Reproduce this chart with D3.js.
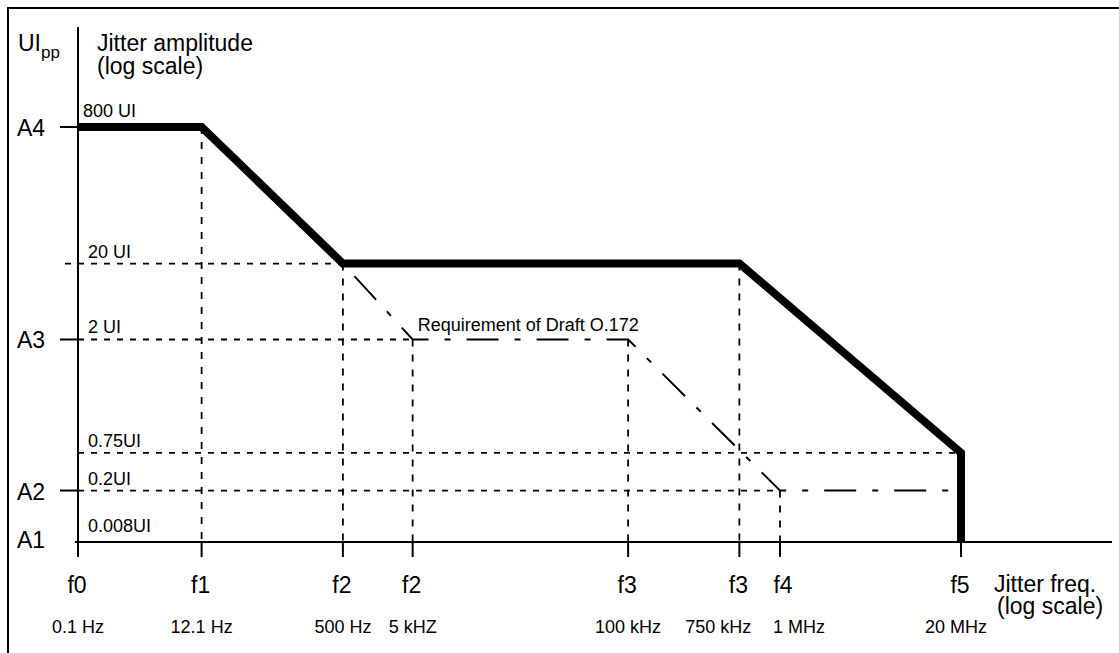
<!DOCTYPE html>
<html>
<head>
<meta charset="utf-8">
<script src="https://cdn.jsdelivr.net/npm/d3@7/dist/d3.min.js"></script>
<style>
  body { margin: 0; background: #fff; }
  svg { display: block; font-family: "Liberation Sans", Arial, Helvetica, sans-serif; }
</style>
</head>
<body>
<div id="chart"></div>
<script>
const width = 1119, height = 653;

// jitter frequencies (schematic position along the axis, 0..100)
const freqLabels = ["f0", "f1", "f2", "f2", "f3", "f3", "f4", "f5"];
const freqValues = ["0.1 Hz", "12.1 Hz", "500 Hz", "5 kHZ", "100 kHz", "750 kHz", "1 MHz", "20 MHz"];
const freqPos = [0, 14.0, 30.0, 37.9, 62.3, 74.9, 79.5, 100];

// jitter amplitudes (schematic position up the axis, 0..100)
const ampLabels = ["A4", "", "A3", "", "A2", "A1"];
const ampValues = ["800 UI", "20 UI", "2 UI", "0.75UI", "0.2UI", "0.008UI"];
const ampPos = [100, 67.1, 48.8, 21.5, 12.4, 0];

// mask corners as [freq index, amp index]
const maskPoints = [[0, 0], [1, 0], [2, 1], [5, 1], [7, 3], [7, 5]];
const draftPoints = [[2, 1], [3, 2], [4, 2], [6, 4], [7, 4]];

// projection lines: vertical from a corner down to the axis, horizontal from the axis to a corner
const dropLines = [[1, 0], [2, 1], [3, 2], [4, 2], [5, 1], [6, 4]];
const levelLines = [[2, 1], [3, 2], [7, 3], [6, 4]];

const draftLabel = "Requirement of Draft O.172";

const svg = d3.select("#chart").append("svg")
    .attr("width", width)
    .attr("height", height)
    .attr("viewBox", [0, 0, width, height]);

const xScale = d3.scaleLinear().domain([0, 100]).range([78, 961]);
const yScale = d3.scaleLinear().domain([0, 100]).range([542, 127]);

const px = i => xScale(freqPos[i]);
const py = j => yScale(ampPos[j]);

// frame
svg.append("rect")
    .attr("x", 8).attr("y", 8)
    .attr("width", width + 20).attr("height", height + 20)
    .attr("fill", "none")
    .attr("stroke", "#000")
    .attr("stroke-width", 2);

// dotted projection lines
svg.selectAll(".drop")
    .data(dropLines)
    .join("line")
        .attr("class", "drop")
        .attr("x1", d => px(d[0])).attr("x2", d => px(d[0]))
        .attr("y1", d => py(d[1])).attr("y2", yScale(0))
        .attr("stroke", "#000")
        .attr("stroke-width", 1.8)
        .attr("stroke-dasharray", "7,8");

svg.selectAll(".level")
    .data(levelLines)
    .join("line")
        .attr("class", "level")
        .attr("x1", d => d[1] === 1 ? xScale(0) - 13 : xScale(0))
        .attr("x2", d => px(d[0]))
        .attr("y1", d => py(d[1])).attr("y2", d => py(d[1]))
        .attr("stroke", "#000")
        .attr("stroke-width", 1.8)
        .attr("stroke-dasharray", "6,7");

// draft O.172 requirement (dash-dot)
const line = d3.line().x(d => px(d[0])).y(d => py(d[1]));

svg.append("path")
    .attr("d", line(draftPoints))
    .attr("fill", "none")
    .attr("stroke", "#000")
    .attr("stroke-width", 2)
    .attr("stroke-dasharray", "32,16,6,16")
    .attr("stroke-dashoffset", 53);

svg.append("text")
    .attr("x", px(3) + 5)
    .attr("y", py(2) - 8)
    .attr("font-size", 18)
    .text(draftLabel);

// tolerance mask (thick)
svg.append("path")
    .attr("d", line(maskPoints))
    .attr("fill", "none")
    .attr("stroke", "#000")
    .attr("stroke-width", 8)
    .attr("stroke-linejoin", "miter")
    .attr("stroke-linecap", "butt");

// axes
svg.append("line")
    .attr("x1", xScale(0) - 3).attr("x2", width - 7)
    .attr("y1", yScale(0)).attr("y2", yScale(0))
    .attr("stroke", "#000").attr("stroke-width", 2);

svg.append("line")
    .attr("x1", xScale(0)).attr("x2", xScale(0))
    .attr("y1", 27).attr("y2", yScale(0) + 15)
    .attr("stroke", "#000").attr("stroke-width", 2);

// x ticks and labels
svg.selectAll(".xtick")
    .data(freqPos)
    .join("line")
        .attr("class", "xtick")
        .attr("x1", d => xScale(d)).attr("x2", d => xScale(d))
        .attr("y1", yScale(0)).attr("y2", yScale(0) + 15)
        .attr("stroke", "#000").attr("stroke-width", 2);

svg.selectAll(".fname")
    .data(freqLabels)
    .join("text")
        .attr("class", "fname")
        .attr("x", (d, i) => px(i) + (i === 6 ? 3 : -1))
        .attr("y", 593)
        .attr("text-anchor", "middle")
        .attr("font-size", 23)
        .text(d => d);

// a couple of value labels are pushed apart so they do not collide
const valueNudge = { "750 kHz": -21, "1 MHz": 19, "20 MHz": -5 };

svg.selectAll(".fval")
    .data(freqValues)
    .join("text")
        .attr("class", "fval")
        .attr("x", (d, i) => px(i) + (valueNudge[d] || 0))
        .attr("y", 633)
        .attr("text-anchor", "middle")
        .attr("font-size", 18)
        .text(d => d);

// y ticks and labels
svg.selectAll(".ytick")
    .data(ampPos.filter((d, i) => ampLabels[i] && d > 0))
    .join("line")
        .attr("class", "ytick")
        .attr("x1", xScale(0) - 18).attr("x2", xScale(0))
        .attr("y1", d => yScale(d)).attr("y2", d => yScale(d))
        .attr("stroke", "#000").attr("stroke-width", 2);

svg.selectAll(".aname")
    .data(ampLabels)
    .join("text")
        .attr("class", "aname")
        .attr("x", 17)
        .attr("y", (d, i) => py(i) + (i === 5 ? 6 : 9))
        .attr("font-size", 23)
        .text(d => d);

svg.selectAll(".aval")
    .data(ampValues)
    .join("text")
        .attr("class", "aval")
        .attr("x", (d, i) => xScale(0) + (i === 0 ? 5 : 10))
        .attr("y", (d, i) => py(i) - (i === 0 || i === 5 ? 10 : 6))
        .attr("font-size", 18)
        .text(d => d);

// axis titles
const yTitle = svg.append("text")
    .attr("x", 18).attr("y", 51)
    .attr("font-size", 23);
yTitle.append("tspan").text("UI");
yTitle.append("tspan").attr("font-size", 17).attr("dy", 7).text("pp");

svg.append("text")
    .attr("x", 97).attr("y", 51)
    .attr("font-size", 23)
    .text("Jitter amplitude");
svg.append("text")
    .attr("x", 97).attr("y", 74)
    .attr("font-size", 23)
    .text("(log scale)");

svg.append("text")
    .attr("x", 994).attr("y", 592)
    .attr("font-size", 23)
    .text("Jitter freq.");
svg.append("text")
    .attr("x", 997).attr("y", 614)
    .attr("font-size", 23)
    .text("(log scale)");
</script>
</body>
</html>
